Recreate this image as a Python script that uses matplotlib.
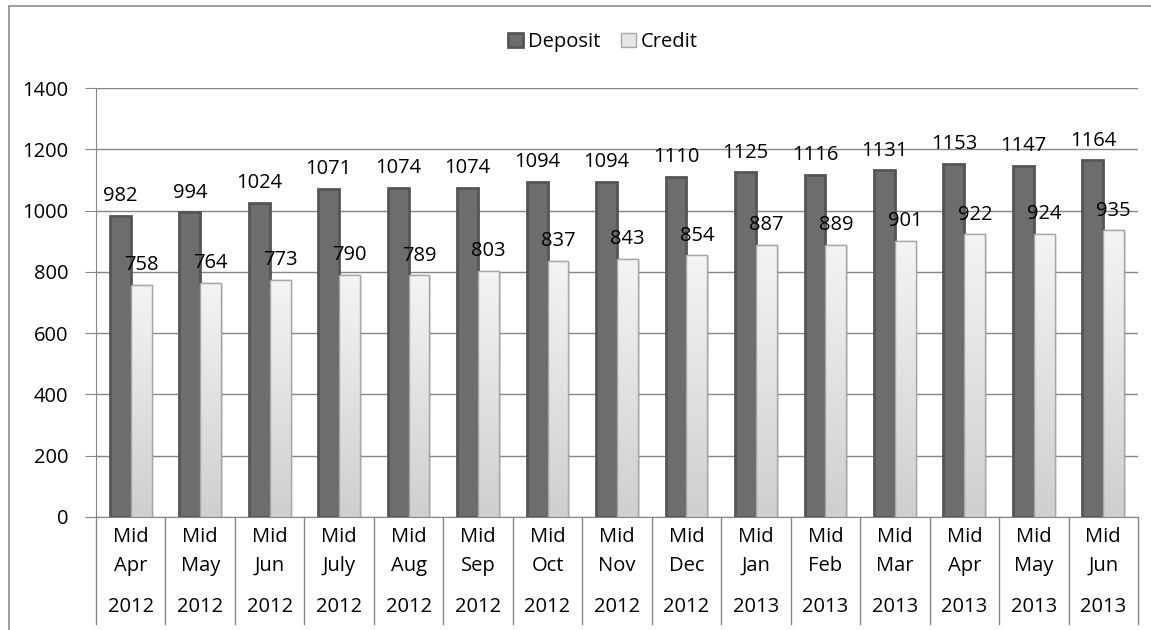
import matplotlib
matplotlib.use("Agg")
import matplotlib.pyplot as plt
import numpy as np
from matplotlib.patches import Rectangle
from matplotlib.colors import LinearSegmentedColormap

plt.rcParams['font.family'] = ['Open Sans', 'DejaVu Sans']

months = ["Apr", "May", "Jun", "July", "Aug", "Sep", "Oct", "Nov", "Dec",
          "Jan", "Feb", "Mar", "Apr", "May", "Jun"]
years = ["2012"] * 9 + ["2013"] * 6
deposit = [982, 994, 1024, 1071, 1074, 1074, 1094, 1094, 1110, 1125, 1116, 1131, 1153, 1147, 1164]
credit = [758, 764, 773, 790, 789, 803, 837, 843, 854, 887, 889, 901, 922, 924, 935]
yticks = [0, 200, 400, 600, 800, 1000, 1200, 1400]

FS = 14.5
W, H = 1151, 630
fig = plt.figure(figsize=(W / 100, H / 100), dpi=100)
fig.patch.set_facecolor("white")

# outer chart border
fig.patches.append(Rectangle((9 / W, -0.05), 1.2, 1 - 6 / H + 0.05, transform=fig.transFigure,
                             fill=False, edgecolor="#8c8c8c", linewidth=1.2))

left, right, top, bottom = 96, 1138, 88, 517
ax = fig.add_axes([left / W, 1 - bottom / H, (right - left) / W, (bottom - top) / H])
n = len(months)
ax.set_xlim(0, n)
ax.set_ylim(0, 1400)
ax.set_yticks(yticks)
ax.set_yticklabels([str(v) for v in yticks], fontsize=FS)
ax.tick_params(axis="y", length=8, color="#868686", pad=12)
ax.set_xticks([])
for s in ["top", "right"]:
    ax.spines[s].set_visible(False)
ax.spines["left"].set_color("#868686")
ax.spines["bottom"].set_color("#868686")
ax.yaxis.grid(True, color="#868686", linewidth=1)
ax.set_axisbelow(True)

x = np.arange(n)
bw = 0.3
grad = np.linspace(0, 1, 256).reshape(-1, 1)
cmap_c = LinearSegmentedColormap.from_list("c", ["#cfcfcf", "#f4f4f4"])

dep_bars = ax.bar(x + 0.5 - bw / 2, deposit, width=bw, color="#6d6d6d",
                  edgecolor="#555555", linewidth=2, label="Deposit", zorder=3)
cre_bars = ax.bar(x + 0.5 + bw / 2, credit, width=bw, color="#e6e6e6",
                  edgecolor="#a6a6a6", linewidth=1, label="Credit", zorder=3)

# shadows and gradient for credit
for b in list(dep_bars) + list(cre_bars):
    ax.add_patch(Rectangle((b.get_x() + 0.025, 0), b.get_width(), b.get_height() - 6,
                           facecolor="#000000", alpha=0.08, edgecolor="none", zorder=2))
for b in cre_bars:
    x0, w, h = b.get_x(), b.get_width(), b.get_height()
    im = ax.imshow(grad, cmap=cmap_c, extent=(x0, x0 + w, 0, h), origin="lower",
                   aspect="auto", zorder=3.5)
    im.set_clip_path(b)
    ax.add_patch(Rectangle((x0, 0), w, h, fill=False, edgecolor="#a6a6a6", linewidth=1, zorder=4))
ax.set_xlim(0, n)
ax.set_ylim(0, 1400)

for xi, v in zip(x, deposit):
    ax.annotate(str(v), (xi + 0.5 - bw / 2, v), xytext=(0, 7), textcoords="offset points",
                ha="center", va="bottom", fontsize=FS, color="black", zorder=5)
for xi, v in zip(x, credit):
    ax.annotate(str(v), (xi + 0.5 + bw / 2, v), xytext=(0, 7), textcoords="offset points",
                ha="center", va="bottom", fontsize=FS, color="black", zorder=5)

# category axis
tr = ax.get_xaxis_transform()
hpx = bottom - top
def yfrac(py):
    return (bottom - py) / hpx
for i in range(n + 1):
    ax.plot([i, i], [0, yfrac(624)], transform=tr, color="#868686", linewidth=1,
            clip_on=False, zorder=1)
for i in range(n):
    ax.text(i + 0.5, yfrac(537), "Mid", transform=tr, ha="center", va="center", fontsize=FS)
    ax.text(i + 0.5, yfrac(566), months[i], transform=tr, ha="center", va="center", fontsize=FS)
    ax.text(i + 0.5, yfrac(607), years[i], transform=tr, ha="center", va="center", fontsize=FS)

leg = fig.legend(handles=[dep_bars, cre_bars], labels=["Deposit", "Credit"],
                 loc="center", bbox_to_anchor=(603 / W, 1 - 42 / H), ncol=2, frameon=False,
                 fontsize=FS, handlelength=0.75, handleheight=0.75, handletextpad=0.25,
                 columnspacing=1.0)

fig.savefig("out.png", dpi=100)
